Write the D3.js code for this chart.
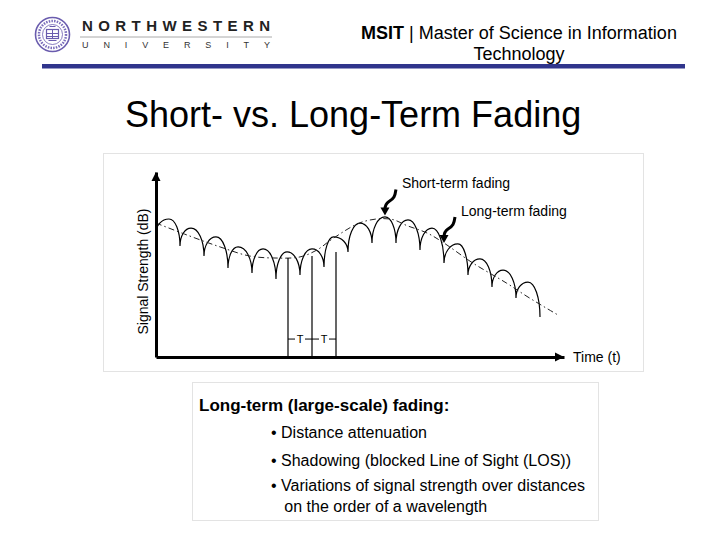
<!DOCTYPE html>
<html lang="en">
<head>
    <meta charset="UTF-8">
    <title>Short- vs. Long-Term Fading</title>
    <script src="https://cdnjs.cloudflare.com/ajax/libs/d3/7.8.5/d3.min.js"></script>
    <style>
        body {
            margin: 0;
            background-color: white;
            font-family: Arial, "Liberation Sans", sans-serif;
        }
        svg text {
            font-family: Arial, "Liberation Sans", sans-serif;
        }
    </style>
</head>
<body>
    <svg id="slide" width="720" height="540"></svg>

    <script>
        // Short-term fading: cusp (dip) and peak of every arch, time in units of T
        const dipTime = [0, 1, 2, 3, 4, 5, 6, 7, 8, 9, 10, 11, 12, 13, 14, 15, 16];
        const dipLevel = [67, 60, 54.6, 48.1, 45.4, 42.2, 44.3, 48.6, 56.8, 61.6, 61.6, 57.8, 50.8, 44.3, 37.8, 31.9, 21.6];
        const peakTime = [0.54, 1.46, 2.5, 3.42, 4.46, 5.46, 6.5, 7.4, 8.5, 9.54, 10.5, 11.5, 12.58, 13.5, 14.46, 15.5];
        const peakLevel = [74.6, 69.7, 64.9, 59.5, 58.4, 56.8, 58.4, 64.9, 72.4, 75.7, 74.1, 69.7, 61.1, 53, 47, 40.5];

        // Long-term fading trend (dash-dot line)
        const trendTime = [0, 1.3, 2.67, 3.9, 5.0, 6.0, 6.7, 7.4, 8.6, 9.75, 10.5, 11.3, 12, 13.2, 14.6, 15.5, 16.75];
        const trendLevel = [72.4, 65.9, 59.5, 54.6, 53.5, 54.1, 57.8, 64.3, 73, 74.6, 70.8, 67, 61.6, 50.8, 40, 32.4, 22.7];

        // Period markers
        const periodTime = [5.5, 6.5, 7.5];
        const periodTop = [53.5, 54.6, 56.8];
        const periodLabel = ["T", "T"];
        const periodLabelLevel = 9.7;

        // Annotations (arrow tip in data units)
        const annotations = [
            { text: "Short-term fading", time: 9.54, level: 76.5 },
            { text: "Long-term fading", time: 12, level: 61.6 }
        ];

        const bullets = [
            "\u2022 Distance attenuation",
            "\u2022 Shadowing (blocked Line of Sight (LOS))",
            "\u2022 Variations of signal strength over distances",
            "   on the order of a wavelength"
        ];

        const svg = d3.select("#slide");

        svg.append("rect")
            .attr("width", 720)
            .attr("height", 540)
            .attr("fill", "white");

        // ---- Header ----
        const seal = svg.append("g").attr("transform", "translate(52.5,34.5)");
        seal.append("circle").attr("r", 17).attr("fill", "none")
            .attr("stroke", "#6a5cae").attr("stroke-width", 1.6);
        seal.append("circle").attr("r", 13.5).attr("fill", "none")
            .attr("stroke", "#7a6dba").attr("stroke-width", 2.5)
            .attr("stroke-dasharray", "1.5,1.2");
        seal.append("circle").attr("r", 10).attr("fill", "none")
            .attr("stroke", "#6a5cae").attr("stroke-width", 0.8);
        seal.append("rect").attr("x", -6).attr("y", -5).attr("width", 12).attr("height", 9)
            .attr("fill", "none").attr("stroke", "#6a5cae").attr("stroke-width", 1.2);
        seal.append("path").attr("d", "M-6,-1H6M-6,2H6M0,-5V4M-3,-8L3,-8M-4,6H4")
            .attr("stroke", "#6a5cae").attr("stroke-width", 1);

        svg.append("text")
            .attr("x", 82).attr("y", 31)
            .attr("textLength", 188).attr("lengthAdjust", "spacing")
            .attr("font-size", 15).attr("font-weight", "bold")
            .attr("fill", "#222")
            .text("NORTHWESTERN");
        svg.append("line")
            .attr("x1", 80).attr("x2", 272).attr("y1", 37).attr("y2", 37)
            .attr("stroke", "#aaa").attr("stroke-width", 1);
        svg.append("text")
            .attr("x", 82).attr("y", 48)
            .attr("textLength", 188).attr("lengthAdjust", "spacing")
            .attr("font-size", 9)
            .attr("fill", "#333")
            .text("UNIVERSITY");

        const head = svg.append("text")
            .attr("x", 519).attr("y", 39)
            .attr("text-anchor", "middle")
            .attr("font-size", 18)
            .attr("fill", "#000");
        head.append("tspan").attr("font-weight", "bold").text("MSIT");
        head.append("tspan").text(" | Master of Science in Information");
        svg.append("text")
            .attr("x", 519).attr("y", 60)
            .attr("text-anchor", "middle")
            .attr("font-size", 18)
            .text("Technology");

        svg.append("rect")
            .attr("x", 42).attr("y", 64)
            .attr("width", 643).attr("height", 4.5)
            .attr("fill", "#30358c");

        svg.append("text")
            .attr("x", 125).attr("y", 127)
            .attr("font-size", 36)
            .attr("fill", "#000")
            .text("Short- vs. Long-Term Fading");

        // ---- Chart ----
        svg.append("rect")
            .attr("x", 103.5).attr("y", 153.5)
            .attr("width", 540).attr("height", 218)
            .attr("fill", "white")
            .attr("stroke", "#e3e3e3");

        const xScale = d3.scaleLinear().domain([0, 17]).range([156, 564]);
        const yScale = d3.scaleLinear().domain([0, 100]).range([357, 172]);

        // Arches: each one rises from a cusp to its peak and falls to the next cusp
        const archPath = d3.path();
        peakTime.forEach((pt, i) => {
            const x0 = xScale(dipTime[i]), y0 = yScale(dipLevel[i]);
            const xp = xScale(pt), yp = yScale(peakLevel[i]);
            const x1 = xScale(dipTime[i + 1]), y1 = yScale(dipLevel[i + 1]);
            const k = 0.56;
            archPath.moveTo(x0, y0);
            archPath.bezierCurveTo(x0, y0 + (yp - y0) * k, xp - (xp - x0) * k, yp, xp, yp);
            archPath.bezierCurveTo(xp + (x1 - xp) * k, yp, x1, y1 + (yp - y1) * k, x1, y1);
        });
        svg.append("path")
            .attr("d", archPath.toString())
            .attr("fill", "none")
            .attr("stroke", "#000")
            .attr("stroke-width", 1.2);

        // Long-term trend
        const trendLine = d3.line()
            .x(d => xScale(d[0]))
            .y(d => yScale(d[1]))
            .curve(d3.curveCatmullRom.alpha(0.5));
        svg.append("path")
            .attr("d", trendLine(d3.zip(trendTime, trendLevel)))
            .attr("fill", "none")
            .attr("stroke", "#222")
            .attr("stroke-width", 1)
            .attr("stroke-dasharray", "6,3,1.5,3");

        // Period markers
        periodTime.forEach((t, i) => {
            svg.append("line")
                .attr("x1", xScale(t)).attr("x2", xScale(t))
                .attr("y1", yScale(0)).attr("y2", yScale(periodTop[i]))
                .attr("stroke", "#000").attr("stroke-width", 1.2);
        });
        periodLabel.forEach((lab, i) => {
            const xa = xScale(periodTime[i]), xb = xScale(periodTime[i + 1]);
            const xm = (xa + xb) / 2, yl = yScale(periodLabelLevel);
            svg.append("line")
                .attr("x1", xa).attr("x2", xm - 5).attr("y1", yl).attr("y2", yl)
                .attr("stroke", "#000");
            svg.append("line")
                .attr("x1", xm + 5).attr("x2", xb).attr("y1", yl).attr("y2", yl)
                .attr("stroke", "#000");
            svg.append("text")
                .attr("x", xm).attr("y", yl + 4)
                .attr("text-anchor", "middle")
                .attr("font-size", 11)
                .text(lab);
        });

        // Axes with arrow heads
        const xAxis = svg.append("g")
            .attr("transform", `translate(0,${yScale(0)})`)
            .call(d3.axisBottom(xScale).ticks(0).tickSizeOuter(0));
        const yAxis = svg.append("g")
            .attr("transform", `translate(${xScale(0)},0)`)
            .call(d3.axisLeft(yScale).ticks(0).tickSizeOuter(0));
        [xAxis, yAxis].forEach(ax => {
            ax.select(".domain").attr("stroke", "#000").attr("stroke-width", 3);
        });
        const xEnd = xScale.range()[1], yEnd = yScale.range()[1];
        svg.append("path")
            .attr("d", `M${xEnd - 9},${yScale(0) - 4.5}L${xEnd},${yScale(0)}L${xEnd - 9},${yScale(0) + 4.5}Z`)
            .attr("fill", "#000");
        svg.append("path")
            .attr("d", `M${xScale(0) - 4.5},${yEnd + 9}L${xScale(0)},${yEnd}L${xScale(0) + 4.5},${yEnd + 9}Z`)
            .attr("fill", "#000");

        svg.append("text")
            .attr("x", 573).attr("y", 362)
            .attr("font-size", 14)
            .text("Time (t)");
        svg.append("text")
            .attr("transform", "translate(148,271.5) rotate(-90)")
            .attr("text-anchor", "middle")
            .attr("font-size", 14)
            .text("Signal Strength (dB)");

        // Annotation arrows and labels
        annotations.forEach(a => {
            const tx = xScale(a.time), ty = yScale(a.level);
            svg.append("path")
                .attr("d", `M${tx + 11},${ty - 26}C${tx + 10},${ty - 19} ${tx + 9},${ty - 17} ${tx + 4},${ty - 14}C${tx + 1},${ty - 12} ${tx},${ty - 10} ${tx},${ty - 6}`)
                .attr("fill", "none")
                .attr("stroke", "#000")
                .attr("stroke-width", 3);
            svg.append("path")
                .attr("d", `M${tx - 4.5},${ty - 8}L${tx + 4.5},${ty - 8}L${tx},${ty}Z`)
                .attr("fill", "#000");
            svg.append("text")
                .attr("x", tx + 17).attr("y", ty - 27)
                .attr("font-size", 14)
                .text(a.text);
        });

        // ---- Text box ----
        svg.append("rect")
            .attr("x", 192.5).attr("y", 382.5)
            .attr("width", 406).attr("height", 138)
            .attr("fill", "white")
            .attr("stroke", "#e3e3e3");
        svg.append("text")
            .attr("x", 199).attr("y", 411)
            .attr("font-size", 17)
            .attr("font-weight", "bold")
            .text("Long-term (large-scale) fading:");
        const bulletY = [438, 466, 491, 512];
        bullets.forEach((b, i) => {
            svg.append("text")
                .attr("x", 271).attr("y", bulletY[i])
                .attr("font-size", 16)
                .attr("xml:space", "preserve")
                .style("white-space", "pre")
                .text(b);
        });
    </script>
</body>
</html>
